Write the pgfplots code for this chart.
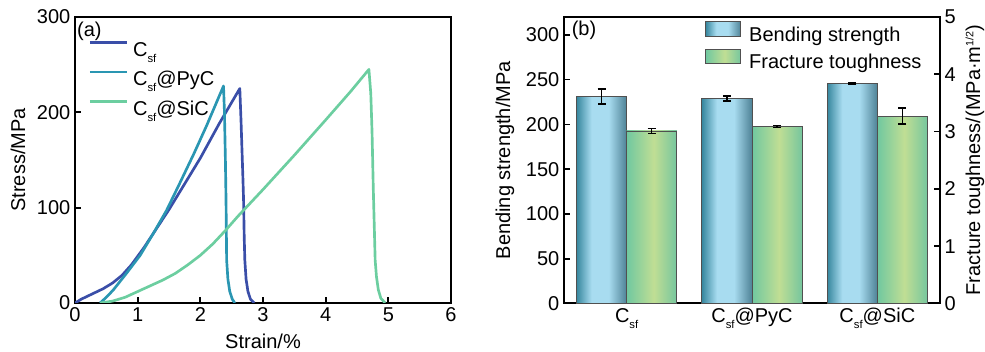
\documentclass[border=0pt]{standalone}
\usepackage{fontspec}
\setmainfont{Liberation Sans}
\usepackage{pgfplots}
\pgfplotsset{compat=1.18}

\definecolor{cCsf}{RGB}{58,78,168}
\definecolor{cPyC}{RGB}{42,150,178}
\definecolor{cSiC}{RGB}{108,206,160}
\definecolor{bDark}{RGB}{55,135,158}
\definecolor{bDarkR}{RGB}{78,130,150}
\definecolor{bLight}{RGB}{168,220,240}
\definecolor{tLeft}{RGB}{112,200,160}
\definecolor{tMid}{RGB}{192,222,148}
\definecolor{tRight}{RGB}{118,198,158}
\definecolor{barEdge}{RGB}{80,80,80}

\pgfdeclarehorizontalshading{bendshade}{100bp}{color(0bp)=(bDark); color(25bp)=(bDark); color(40bp)=(bLight); color(57bp)=(bLight); color(75bp)=(bDarkR); color(100bp)=(bDarkR)}
\pgfdeclarehorizontalshading{toughshade}{100bp}{color(0bp)=(tLeft); color(25bp)=(tLeft); color(52bp)=(tMid); color(75bp)=(tRight); color(100bp)=(tRight)}

\newcommand\sub[1]{\raisebox{-4.5pt}{\fontsize{8.5}{9}\selectfont #1}}
\newcommand\fs{\fontsize{15}{18}\selectfont}

\pgfplotsset{
  common/.style={
    scale only axis,
    tick align=inside,
    major tick length=4.5pt,
    axis line style={line width=1.5pt},
    every tick/.style={black, line width=1.3pt},
    tick label style={font=\fs},
    label style={font=\fs},
    /pgf/number format/assume math mode=true,
  },
  bendbar/.style={forget plot, ybar, bar width=0.4, bar shift=0pt, draw=barEdge, line width=0.7pt, shade, shading=bendshade},
  toughbar/.style={forget plot, ybar, bar width=0.4, bar shift=0pt, draw=barEdge, line width=0.7pt, shade, shading=toughshade},
  errplot/.style={forget plot, draw=none, mark=none,
    error bars/.cd, y dir=both, y explicit,
    error mark=|,
    error bar style={draw=black, line width=1.1pt},
    error mark options={draw=black, line width=1.1pt, mark size=3pt}},
}

\begin{document}
\begin{tikzpicture}
\path[use as bounding box] (0,0) rectangle (738.75pt,264pt);

% ---------------- (a) stress-strain ----------------
\begin{axis}[common,
  at={(56.25pt,36.75pt)}, anchor=south west,
  width=282pt, height=214.5pt,
  xmin=0, xmax=6, ymin=0, ymax=300,
  xtick={0,1,2,3,4,5,6}, ytick={0,100,200,300},
  xtick pos=bottom, ytick pos=left,
  xlabel={Strain/\%}, ylabel={Stress/MPa},
  every axis x label/.style={at={(axis description cs:0.5,-0.1608)}, anchor=base, font=\fs},
  every axis y label/.style={at={(axis description cs:-0.1516,0.5)}, rotate=90, anchor=center, font=\fs},
  legend style={at={(axis description cs:0.035,0.916)}, anchor=north west, draw=none, fill=none,
    font=\fs, inner sep=0pt, row sep=5.5pt,
    nodes={inner sep=0pt, text height=11pt, text depth=5pt},
    /tikz/every odd column/.append style={column sep=3.75pt}},
  legend cell align=left,
  legend image code/.code={\draw[#1] (0pt,7.5pt) -- (27.75pt,7.5pt);},
]
\addlegendimage{cCsf, line width=2pt}
\addlegendentry{C\sub{sf}}
\addlegendimage{cPyC, line width=2pt}
\addlegendentry{C\sub{sf}@PyC}
\addlegendimage{cSiC, line width=2pt}
\addlegendentry{C\sub{sf}@SiC}
\addplot[forget plot, cCsf, line width=2pt, line join=round] coordinates {
 (0,0) (0.1,4) (0.24,8.4) (0.45,15) (0.6,21) (0.75,29) (0.9,40) (1.1,58) (1.3,78) (1.5,98)
 (1.75,125) (2.0,152) (2.3,188) (2.63,225)
 (2.65,190) (2.68,130) (2.69,108) (2.70,70) (2.71,45) (2.73,25) (2.76,12) (2.80,4) (2.86,0)};
\addplot[forget plot, cPyC, line width=2pt, line join=round] coordinates {
 (0.4,0) (0.5,6) (0.61,13.6) (0.82,31) (1.04,50) (1.25,73) (1.46,97) (1.66,124) (1.9,157) (2.1,186) (2.37,227.6)
 (2.385,200) (2.40,150) (2.41,108) (2.42,45) (2.44,25) (2.47,12) (2.51,4) (2.55,0)};
\addplot[forget plot, cSiC, line width=2pt, line join=round] coordinates {
 (0.4,0) (0.6,2) (0.8,6) (1.0,12) (1.2,18) (1.4,24) (1.6,31) (1.8,40) (2.0,50) (2.2,62) (2.4,76)
 (2.6,91) (2.8,105) (3.0,119) (3.5,155) (4.0,192) (4.4,222) (4.69,245)
 (4.72,220) (4.74,180) (4.76,120) (4.78,70) (4.79,45) (4.81,28) (4.84,14) (4.88,5) (4.95,0)};
\node[anchor=north west, font=\fs, inner sep=0pt] at (axis description cs:0.005,0.985) {(a)};
\end{axis}

% ---------------- (b) bending strength ----------------
\begin{axis}[common,
  at={(423pt,36.4pt)}, anchor=south west,
  width=282pt, height=214.9pt,
  xmin=-0.5, xmax=2.5, ymin=0, ymax=320,
  ytick={0,50,100,150,200,250,300}, ytick pos=left,
  xtick={0,1,2}, xticklabels={C\sub{sf}, C\sub{sf}@PyC, C\sub{sf}@SiC},
  xtick style={draw=none},
  ylabel={Bending strength/MPa},
  every axis y label/.style={at={(axis description cs:-0.157,0.5)}, rotate=90, anchor=center, font=\fs},
]
\addplot[bendbar] coordinates {(-0.2,231)};
\addplot[bendbar] coordinates {(0.8,229)};
\addplot[bendbar] coordinates {(1.8,245.5)};
\addplot[errplot] coordinates {(-0.2,231) +- (0,8.3) (0.8,229) +- (0,2.8) (1.8,245.5) +- (0,0.6)};
\node[anchor=north west, font=\fs, inner sep=0pt] at (axis description cs:0.02,0.985) {(b)};
\end{axis}

% ---------------- (b) fracture toughness ----------------
\begin{axis}[common,
  at={(423pt,36.4pt)}, anchor=south west,
  width=282pt, height=214.9pt,
  xmin=-0.5, xmax=2.5, ymin=0, ymax=5,
  axis y line*=right, axis x line=none,
  ytick={0,1,2,3,4,5},
  clip=false,
  legend style={at={(axis description cs:0.375,0.986)}, anchor=north west, draw=none, fill=none,
    font=\fs, inner sep=0pt, row sep=2pt,
    nodes={inner sep=0pt, text height=11pt, text depth=3.5pt},
    /tikz/every odd column/.append style={column sep=6pt}},
  legend cell align=left,
  legend image code/.code={\draw[#1] (0pt,0pt) rectangle (26.25pt,11pt);},
]
\addlegendimage{draw=barEdge, line width=0.7pt, shade, shading=bendshade}
\addlegendentry{Bending strength}
\addlegendimage{draw=barEdge, line width=0.7pt, shade, shading=toughshade}
\addlegendentry{Fracture toughness}
\addplot[toughbar] coordinates {(0.2,3.01)};
\addplot[toughbar] coordinates {(1.2,3.09)};
\addplot[toughbar] coordinates {(2.2,3.27)};
\addplot[errplot] coordinates {(0.2,3.01) +- (0,0.045) (1.2,3.09) +- (0,0.015) (2.2,3.27) +- (0,0.14)};
\node[rotate=90, anchor=center, font=\fs, inner sep=0pt] at (axis description cs:1.093,0.5)
  {Fracture toughness/(MPa·m\raisebox{5pt}{\fontsize{8}{8}\selectfont 1/2})};
\end{axis}
\end{tikzpicture}
\end{document}
